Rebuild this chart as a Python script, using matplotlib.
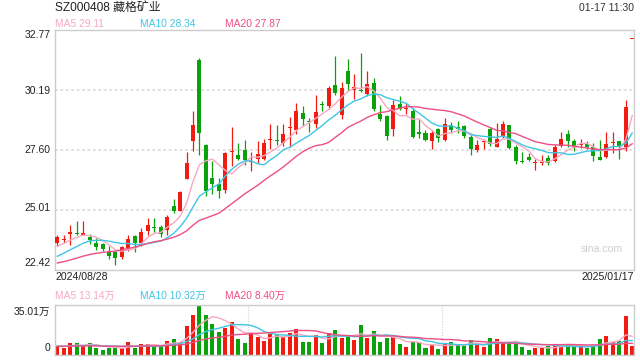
import numpy as np
import matplotlib
matplotlib.use("Agg")
import matplotlib.pyplot as plt

OUTPUT_IMAGE = "out.png"

TITLE = "SZ000408 藏格矿业"
STAMP = "01-17 11:30"
FIRST_DATE = "2024/08/28"
LAST_DATE = "2025/01/17"

PRICE_TICKS = [32.77, 30.19, 27.60, 25.01, 22.42]
VOL_TOP = 35.01  # 万

# legend readings shown by the quote page
MA_PERIODS = [5, 10, 20]
MA_PRICE_LABELS = [29.11, 28.34, 27.87]
MA_VOL_LABELS = [13.14, 10.32, 8.40]

# daily candles, 2024/08/28 .. 2025/01/17
opens = [23.57, 23.72, 23.98, 23.98, 23.92, 23.83, 23.57, 23.53, 23.21, 23.18,
         22.98, 23.36, 23.86, 23.57, 24.10, 24.26, 24.25, 24.12, 25.15, 24.97,
         26.35, 27.99, 31.48, 27.79, 26.38, 26.13, 25.87, 27.50, 27.37, 27.57,
         27.06, 27.21, 27.21, 28.00, 27.98, 27.87, 28.51, 28.44, 29.18, 28.79,
         28.71, 29.57, 29.47, 30.38, 29.08, 31.01, 30.19, 30.17, 30.00, 30.48,
         29.14, 29.05, 28.50, 29.57, 29.33, 29.26, 28.35, 28.30, 27.99, 28.49,
         28.03, 28.68, 28.58, 28.61, 28.15, 27.60, 27.93, 28.49, 27.73, 28.20,
         28.64, 27.72, 27.12, 27.28, 27.01, 27.04, 27.24, 27.10, 27.77, 28.28,
         27.96, 27.78, 27.86, 27.70, 27.28, 27.27, 27.90, 27.96, 27.70, 32.38]
closes = [23.82, 23.74, 24.01, 23.96, 24.02, 23.72, 23.41, 23.31, 23.01, 22.93,
          23.40, 23.74, 23.57, 24.04, 24.33, 24.23, 23.96, 24.68, 24.97, 25.76,
          27.02, 28.65, 28.32, 25.83, 26.13, 25.80, 27.45, 27.53, 27.21, 27.13,
          27.08, 27.40, 27.87, 28.03, 27.95, 28.28, 28.54, 29.28, 28.90, 28.77,
          29.23, 29.51, 30.26, 30.05, 30.26, 30.44, 30.29, 30.14, 30.43, 29.33,
          28.94, 28.20, 29.51, 29.33, 29.36, 28.15, 28.29, 28.03, 28.32, 28.10,
          28.71, 28.46, 28.48, 28.20, 27.64, 27.80, 27.95, 27.82, 28.06, 28.71,
          27.67, 27.10, 27.08, 27.17, 27.02, 27.05, 27.02, 27.73, 28.06, 27.99,
          27.74, 27.83, 27.73, 27.31, 27.17, 27.84, 27.92, 27.74, 29.44, 32.38]
highs = [23.93, 23.90, 24.33, 24.53, 24.51, 23.97, 23.78, 23.57, 23.43, 23.24,
         23.43, 23.90, 23.93, 24.22, 24.65, 24.65, 24.36, 24.79, 25.48, 25.83,
         27.50, 29.25, 31.53, 27.82, 27.10, 26.38, 27.50, 28.59, 27.87, 28.01,
         27.50, 27.98, 28.07, 28.70, 28.65, 28.70, 28.99, 29.63, 29.50, 28.95,
         29.95, 29.69, 30.33, 31.63, 30.52, 31.50, 30.87, 31.76, 30.98, 30.69,
         29.51, 29.08, 29.75, 29.90, 29.61, 29.40, 28.91, 28.46, 28.46, 28.53,
         28.97, 28.79, 28.82, 28.65, 28.22, 28.03, 28.07, 28.53, 28.75, 28.82,
         28.68, 27.79, 27.50, 27.46, 27.21, 27.38, 27.36, 27.79, 28.36, 28.45,
         28.07, 28.06, 27.96, 27.89, 28.00, 28.35, 28.35, 27.99, 29.72, 32.38]
lows = [23.43, 23.57, 23.47, 23.93, 23.90, 23.53, 23.28, 23.24, 22.86, 22.64,
        22.86, 23.24, 23.18, 23.43, 23.93, 24.03, 23.82, 23.93, 24.87, 24.94,
        26.35, 27.56, 27.38, 25.61, 25.68, 25.51, 25.73, 26.88, 27.13, 26.95,
        26.66, 27.02, 27.13, 27.64, 27.79, 27.77, 27.73, 28.27, 28.61, 28.36,
        28.51, 29.27, 29.35, 29.97, 28.94, 30.19, 29.77, 30.09, 29.90, 29.26,
        28.85, 28.03, 28.17, 29.29, 29.14, 28.10, 28.10, 27.96, 27.63, 27.93,
        27.99, 28.30, 28.30, 28.10, 27.38, 27.50, 27.63, 27.74, 27.70, 28.10,
        27.64, 26.99, 27.02, 27.10, 26.74, 26.95, 26.92, 27.07, 27.71, 27.70,
        27.56, 27.67, 27.64, 27.10, 27.14, 27.24, 27.46, 27.21, 27.53, 32.38]
# volume in 万 shares
volumes = [6.5, 5.1, 8.2, 8.2, 6.5, 8.2, 5.1, 3.3, 5.1, 4.7,
           5.1, 9.3, 5.1, 7.5, 7.5, 6.5, 6.5, 10.0, 11.0, 9.3,
           20.3, 28.0, 35.01, 28.0, 21.6, 15.9, 18.6, 22.9, 11.1, 8.3,
           15.3, 12.2, 9.4, 14.5, 14.2, 12.2, 15.3, 18.0, 9.3, 9.3,
           14.0, 8.3, 15.0, 17.3, 12.0, 13.2, 10.4, 20.9, 11.8, 16.7,
           9.0, 11.8, 12.3, 7.7, 5.6, 9.0, 9.0, 4.9, 7.0, 4.2,
           8.1, 9.0, 7.0, 6.3, 10.4, 7.7, 5.6, 11.8, 11.1, 8.1,
           8.6, 8.1, 5.4, 3.4, 4.8, 4.8, 6.0, 6.8, 6.4, 6.8,
           6.8, 6.0, 4.8, 7.0, 11.0, 13.0, 9.0, 9.5, 27.0, 6.0]

# sessions before the window, only used so the moving averages start filled
prior_closes = [22.6, 22.5, 22.4, 22.3, 22.3, 22.4, 22.5, 22.4, 22.4, 22.4,
                22.4, 22.5, 22.6, 22.6, 22.75, 23.1, 23.3, 23.4, 23.5]
prior_volumes = [6.0, 5.5, 6.5, 7.0, 6.0, 5.5, 6.0, 6.5, 5.0, 6.0,
                 6.5, 5.5, 6.0, 7.0, 6.0, 5.5, 6.5, 6.0, 6.0]

UP = "#f01c10"
DOWN = "#0aa20a"
MA_COLORS = ["#f8a8c2", "#3fc5e5", "#ee4f84"]
GRID = "#dddddd"
FRAME = "#cccccc"


def moving_average(prior, values, n):
    full = np.array(prior + values, dtype=float)
    out = np.convolve(full, np.ones(n) / n, mode="valid")
    return out[-len(values):]


def px(x, y):
    return x / 640, 1 - y / 360


def main():
    plt.rcParams["font.family"] = ["Liberation Sans", "Noto Sans CJK SC", "DejaVu Sans"]

    fig = plt.figure(figsize=(6.4, 3.6), dpi=100)
    ax = fig.add_axes([55 / 640, 1 - 269.7 / 360, 579 / 640, 240 / 360])
    vax = fig.add_axes([55 / 640, 1 - 355 / 360, 579 / 640, 50.5 / 360])

    n = len(closes)
    x = np.arange(n)
    o = np.array(opens)
    c = np.array(closes)
    colors = np.where(c >= o, UP, DOWN)

    # candles
    ax.vlines(x, lows, highs, colors=colors, lw=0.9, zorder=2)
    body = np.maximum(np.abs(c - o), 0.045)
    ax.bar(x, body, bottom=np.minimum(o, c), width=0.62, color=colors, lw=0, zorder=3)

    for period, col in zip(MA_PERIODS, MA_COLORS):
        ax.plot(x, moving_average(prior_closes, closes, period), color=col, lw=1.0, zorder=4)

    for val in PRICE_TICKS[1:-1]:
        ax.axhline(val, color=GRID, lw=1.3, ls=(0, (1.5, 1.5)), zorder=1)

    ax.set_xlim(-0.36, n - 0.72)
    ax.set_ylim(PRICE_TICKS[-1], PRICE_TICKS[0])
    ax.set_xticks([])
    ax.set_yticks([])
    for s in ax.spines.values():
        s.set_color(FRAME)
        s.set_linewidth(1.0)

    # volume
    vax.bar(x, volumes, width=0.62, color=colors, lw=0, zorder=2)
    for period, col in zip(MA_PERIODS, MA_COLORS):
        vax.plot(x, moving_average(prior_volumes, volumes, period), color=col, lw=1.0, zorder=3)
    for pos in (29.5, 59.5):
        vax.axvline(pos, color=FRAME, lw=0.8, ls=(0, (1, 1.5)), zorder=1)
    vax.set_xlim(-0.36, n - 0.72)
    vax.set_ylim(0, VOL_TOP)
    vax.set_xticks([])
    vax.set_yticks([])
    for name, s in vax.spines.items():
        s.set_color(FRAME)
        s.set_linewidth(1.0)
        if name in ("top", "bottom"):
            s.set_linestyle((0, (1, 1)))

    # texts
    fig.text(*px(55, 8), TITLE, fontsize=8.6, color="#222222", va="center")
    fig.text(*px(634, 8), STAMP, fontsize=7.5, color="#333333", ha="right", va="center")

    for p, col, pv, vv, lx in zip(MA_PERIODS, MA_COLORS, MA_PRICE_LABELS, MA_VOL_LABELS, (55, 140, 225)):
        fig.text(*px(lx, 24), f"MA{p} {pv:.2f}", fontsize=7.4, color=col, va="center")
        fig.text(*px(lx, 296), f"MA{p} {vv:.2f}万", fontsize=7.4, color=col, va="center")

    tick_y = [35, 91, 149.5, 208, 263]
    for val, ty in zip(PRICE_TICKS, tick_y):
        fig.text(*px(50.5, ty), f"{val:.2f}", fontsize=7.5, color="#222222", ha="right", va="center")
    fig.text(*px(50.5, 312), f"{VOL_TOP:.2f}万", fontsize=7.5, color="#222222", ha="right", va="center")
    fig.text(*px(50.5, 348), "0", fontsize=7.5, color="#222222", ha="right", va="center")

    fig.text(*px(55, 277), FIRST_DATE, fontsize=7.6, color="#222222", va="center")
    fig.text(*px(634, 277), LAST_DATE, fontsize=7.6, color="#222222", ha="right", va="center")
    fig.text(*px(623, 249), "sina.com", fontsize=7.6, color="#cfcfcf", ha="right", va="center")

    fig.savefig(OUTPUT_IMAGE, dpi=100)
    plt.close(fig)


if __name__ == "__main__":
    main()
